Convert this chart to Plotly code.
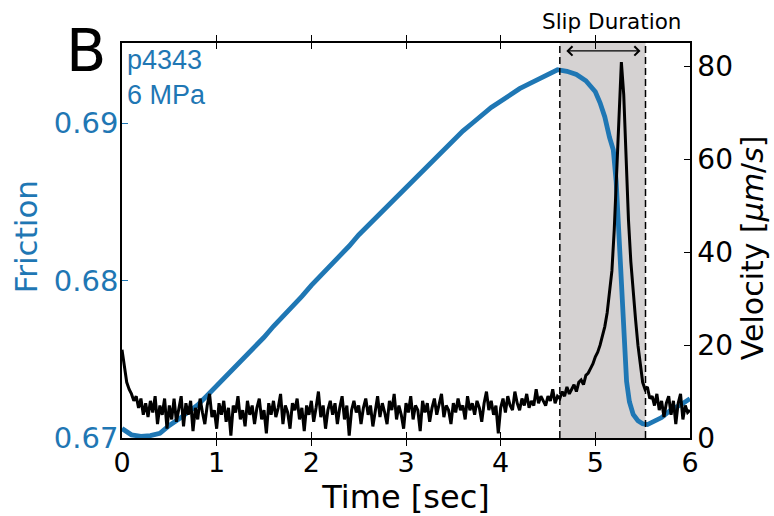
import numpy as np
import plotly.graph_objects as go

# ---------------- data ----------------
fric_t = [0.0, 0.1, 0.2, 0.3, 0.4, 0.5, 0.6, 0.7, 0.8, 0.9,
          1.0, 1.1, 1.2, 1.3, 1.4, 1.5, 1.6, 1.7, 1.8, 1.9,
          2.0, 2.1, 2.2, 2.3, 2.4, 2.5, 2.6, 2.7, 2.8, 2.9,
          3.0, 3.1, 3.2, 3.3, 3.4, 3.5, 3.6, 3.7, 3.8, 3.9,
          4.0, 4.1, 4.2, 4.3, 4.4, 4.5, 4.6, 4.7, 4.8, 4.9,
          5.0, 5.05, 5.1, 5.15, 5.19, 5.22, 5.25, 5.28, 5.31, 5.33,
          5.36, 5.4, 5.45, 5.5, 5.55, 5.6, 5.7, 5.8, 5.9, 6.0]
friction = [0.6706, 0.6702, 0.6701, 0.67015, 0.6703, 0.6708, 0.6712, 0.67165, 0.6721, 0.6727,
            0.6733, 0.6739, 0.6745, 0.6751, 0.6758, 0.6764, 0.6771, 0.6777, 0.6784, 0.6790,
            0.6797, 0.6803, 0.6809, 0.6816, 0.6822, 0.6829, 0.6835, 0.6842, 0.6848, 0.6854,
            0.6860, 0.6866, 0.6872, 0.6878, 0.6884, 0.6890, 0.6895, 0.6900, 0.6905, 0.6910,
            0.6914, 0.6918, 0.6922, 0.6925, 0.6928, 0.6931, 0.6934, 0.6933, 0.6931, 0.6927,
            0.6920, 0.6913, 0.6904, 0.6891, 0.6883, 0.6863, 0.6830, 0.6795, 0.6757, 0.6736,
            0.6723, 0.6715, 0.6711, 0.6709, 0.67085, 0.6710, 0.6713, 0.6718, 0.6721, 0.6725]

# velocity sampled every 0.025 s from 0 to 6 s
vel_t = [round(i * 0.025, 3) for i in range(241)]
velocity = [
    19, 15, 12, 10.5, 9.5, 8, 9, 6.5, 8.5, 5, 7.5, 4.5, 8, 5.5, 9, 3, 7, 5, 8.5, 2,
    7, 4, 8.5, 3.5, 6, 9, 2.5, 7.5, 5, 8, 1.5, 6.5, 4, 8.5, 5.5, 3, 7, 9.5, 4.5, 6,
    2, 7.5, 5, 8, 3.5, 6.5, 0.5, 7, 5.5, 9, 4, 6, 2.5, 8, 5, 7, 3, 6.5, 8.5, 4,
    6, 1, 7.5, 5, 8, 4.5, 6.5, 9.5, 3, 7, 5.5, 2, 7.5, 6, 8.5, 4, 6.5, 1.5, 7, 5,
    8, 3.5, 6.5, 10, 4.5, 7, 2, 6, 8, 5, 7.5, 3, 6.5, 9, 4, 7, 0.5, 6, 8, 5.5,
    7, 3, 6.5, 8.5, 5, 7, 2.5, 6, 9, 4.5, 7.5, 5.5, 3, 8, 6, 9.5, 4, 7, 5, 2,
    7.5, 5.5, 9, 4, 7, 6, 1.5, 8, 5.5, 7.5, 3.5, 6.5, 8.5, 5, 7, 9.5, 4.5, 7, 6, 3,
    7.5, 5.5, 8.5, 6, 7, 4, 9, 6, 7.5, 5, 8, 6.5, 3.5, 7.5, 10, 6, 8, 5, 7, 1,
    6.5, 8.5, 5.5, 9, 7, 6, 10, 7.5, 6, 8.5, 7, 9.5, 6.5, 8, 7, 10.5, 7.5, 9, 8, 7,
    9, 8, 10.5, 7.5, 9, 8.5, 10, 9, 11, 9.5, 10.5, 11.5, 10, 12, 12.5, 11.5, 13.5, 14, 15, 16,
    17.5, 18.5, 20, 22, 24, 27, 31, 36, 45, 57, 69, 81, 74, 59, 47, 38, 31, 25.5, 20, 16,
    12, 10.5, 11, 8.5, 9, 7, 9.5, 6, 8, 4.5, 7.5, 9, 5, 8, 3, 7.5, 9.5, 4, 7, 5.5,
    6]

slip_start = 4.625
slip_end = 5.53

friction_ticks = [0.67, 0.68, 0.69]
velocity_ticks = [0, 20, 40, 60, 80]
time_ticks = [0, 1, 2, 3, 4, 5, 6]

BLUE = "#1f77b4"
FONT = "DejaVu Sans"
SANS = "Liberation Sans"

fig = go.Figure()
fig.add_trace(go.Scatter(x=fric_t, y=friction, mode="lines",
                         line=dict(color=BLUE, width=4.8), yaxis="y", showlegend=False))
fig.add_trace(go.Scatter(x=vel_t, y=velocity, mode="lines",
                         line=dict(color="black", width=3), yaxis="y2", showlegend=False))

# shaded slip region and dashed boundaries
fig.add_shape(type="rect", xref="x", yref="paper", x0=slip_start, x1=slip_end, y0=0, y1=1,
              fillcolor="#d5d2d2", line=dict(width=0), layer="below")
for xv in (slip_start, slip_end):
    fig.add_shape(type="line", xref="x", yref="paper", x0=xv, x1=xv, y0=0, y1=1,
                  line=dict(color="black", width=1.5, dash="7px,4px"), layer="above")

annotations = [
    dict(x=slip_end, y=83.4, xref="x", yref="y2", ax=slip_start, ay=83.4, axref="x", ayref="y2",
         text="", showarrow=True, arrowside="end+start", arrowhead=4, startarrowhead=4,
         arrowsize=1.4, startarrowsize=1.4, arrowwidth=1.3, arrowcolor="black",
         standoff=5, startstandoff=5),
    dict(x=5.17, y=1.055, xref="x", yref="paper", text="Slip Duration",
         showarrow=False, font=dict(family=FONT, size=21.5, color="black"),
         xanchor="center", yanchor="middle"),
    dict(x=-0.064, y=0.98, xref="paper", yref="paper", text="B", showarrow=False,
         font=dict(family=FONT, size=59, color="black"), xanchor="center", yanchor="middle"),
    dict(x=0.006, y=1.0, xref="paper", yref="paper", text="p4343<br>6 MPa", showarrow=False,
         align="left", font=dict(family=SANS, size=27, color=BLUE), xanchor="left", yanchor="top"),
    dict(x=-0.169, y=0.508, xref="paper", yref="paper", text="Friction", textangle=-90,
         showarrow=False, font=dict(family=FONT, size=31, color=BLUE),
         xanchor="center", yanchor="middle"),
    dict(x=1.109, y=0.483, xref="paper", yref="paper", text="Velocity [<i>μm</i>/<i>s</i>]",
         textangle=-90, showarrow=False, font=dict(family=FONT, size=30, color="black"),
         xanchor="center", yanchor="middle"),
]

fig.update_layout(
    width=774, height=516,
    margin=dict(l=122, r=84, t=43, b=78),
    plot_bgcolor="white", paper_bgcolor="white",
    annotations=annotations,
    xaxis=dict(range=[0, 6], tickvals=time_ticks, ticks="inside", ticklen=6, tickwidth=1,
               tickcolor="black", showline=True, linecolor="black", linewidth=1.5,
               mirror="allticks", showgrid=False, zeroline=False, ticklabelstandoff=0,
               tickfont=dict(family=FONT, size=27, color="black"),
               title=dict(text="Time [sec]", font=dict(family=FONT, size=32, color="black"),
                          standoff=4)),
    yaxis=dict(range=[0.67, 0.6951], tickvals=friction_ticks,
               ticktext=["0.67", "0.68", "0.69"], ticks="inside", ticklen=6, tickwidth=1,
               tickcolor=BLUE, showline=True, linecolor="black", linewidth=1.5,
               showgrid=False, zeroline=False, ticklabelstandoff=-4,
               tickfont=dict(family=FONT, size=29, color=BLUE)),
    yaxis2=dict(range=[0, 85.1], tickvals=velocity_ticks, overlaying="y", side="right",
                ticks="inside", ticklen=6, tickwidth=1, tickcolor="black",
                showline=True, linecolor="black", linewidth=1.5,
                showgrid=False, zeroline=False,
                tickfont=dict(family=FONT, size=28, color="black")),
)

fig.write_html("out.html")
